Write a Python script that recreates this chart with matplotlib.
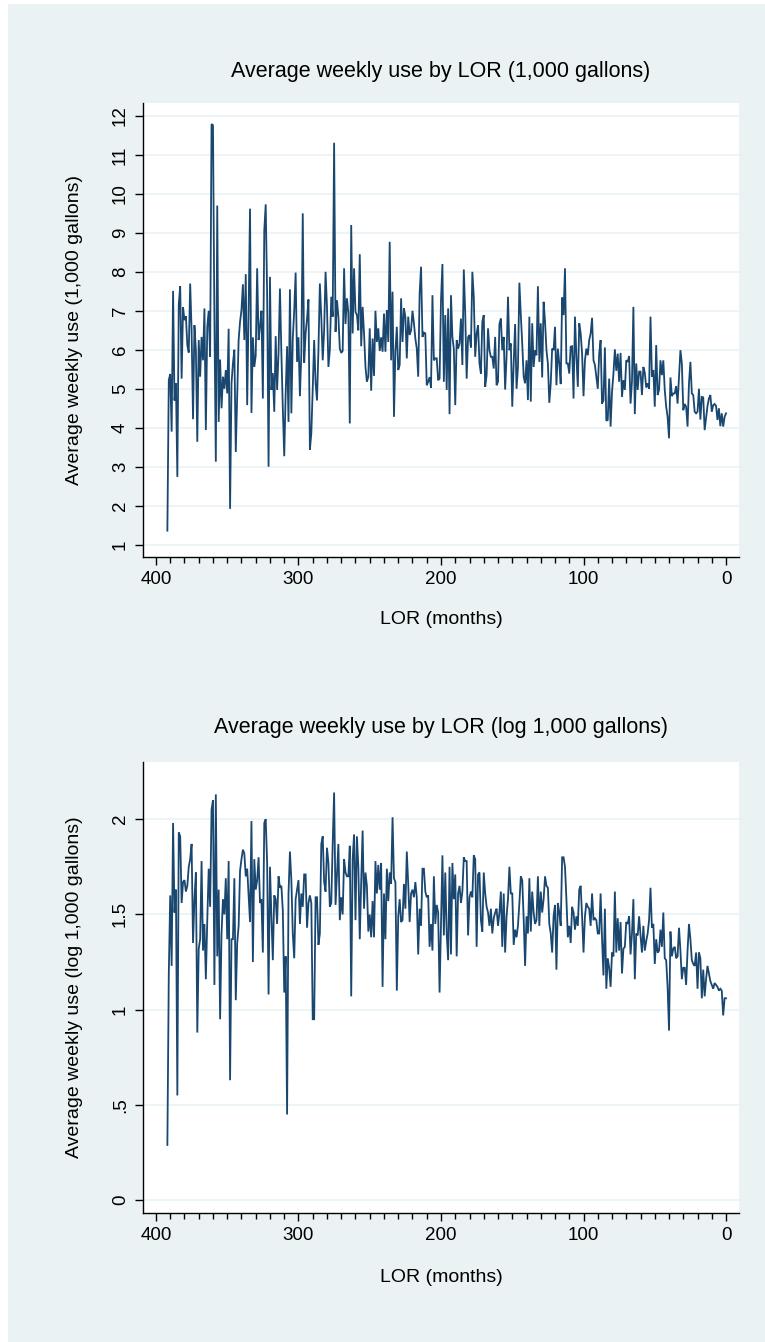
import numpy as np
import matplotlib
matplotlib.use("Agg")
import matplotlib.pyplot as plt
from matplotlib.patches import Rectangle
from matplotlib.ticker import MultipleLocator, FixedLocator

plt.rcParams['font.family'] = ['Liberation Sans', 'DejaVu Sans']

# LOR in months, from 392 down to 0
lor = np.arange(392, -1, -1)

# Average weekly use (1,000 gallons), LOR 392 -> 0
use_a = [1.36, 5.22, 5.38, 3.9, 7.51, 4.7, 5.14, 2.74, 7.17, 7.63,
         5.26, 7.09, 6.76, 6.86, 6.12, 5.93, 7.7, 6.5, 4.22, 6.63,
         5.99, 3.64, 6.25, 5.31, 6.33, 5.73, 7.06, 3.94, 6.59, 7.0,
         5.82, 11.79, 11.76, 6.8, 3.13, 9.7, 4.15, 5.75, 4.5, 5.31,
         5.0, 5.48, 4.88, 6.54, 1.92, 5.14, 5.65, 6.0, 3.38, 4.8,
         6.25, 6.72, 7.02, 7.68, 6.25, 7.94, 4.58, 7.0, 9.62, 4.38,
         6.32, 5.56, 5.86, 8.09, 6.25, 6.6, 7.0, 4.75, 9.07, 9.73,
         7.44, 3.0, 7.87, 4.97, 5.4, 4.41, 6.35, 4.97, 5.91, 7.57,
         5.91, 4.5, 3.27, 4.88, 6.09, 4.15, 7.55]
use_b = [4.37, 6.29, 7.0, 7.98, 5.69, 6.32, 4.81, 5.9, 9.5, 5.67,
         6.42, 6.8, 7.29, 3.44, 3.85, 5.0, 6.25, 5.14, 4.7, 6.0,
         7.7, 6.85, 5.73, 6.5, 8.0, 7.1, 5.56, 6.0, 7.36, 6.85,
         11.31, 6.46, 7.27, 6.85, 6.03, 5.92, 5.97, 8.09, 6.66, 7.32,
         6.95, 4.11, 9.2, 6.42, 8.09, 6.97, 6.89, 6.5, 8.45, 6.09,
         7.1, 6.42, 5.56, 5.18, 5.31, 6.55, 4.95, 6.29, 5.33, 7.0,
         6.2, 6.55, 5.97, 6.32, 5.95, 6.93, 5.95, 7.02, 6.2, 8.77,
         5.73, 7.49, 4.28, 5.95, 6.59, 5.48, 5.61, 7.32, 6.2, 7.06,
         6.85, 5.78, 6.85, 6.38, 6.5, 7.0, 6.68, 6.29, 6.03, 5.31,
         7.44, 8.13, 6.33, 6.44, 6.42, 5.09, 5.18, 5.3, 5.03, 7.4,
         5.73]
use_c = [5.78, 5.78, 5.22, 5.26, 7.27, 8.2, 5.18, 6.89, 4.97, 7.06,
         4.35, 7.4, 6.33, 6.03, 4.58, 6.25, 6.03, 6.16, 6.8, 5.61,
         8.06, 6.93, 5.26, 6.32, 6.38, 6.06, 8.0, 7.36, 5.82, 6.42,
         6.63, 5.65, 5.39, 6.72, 6.89, 5.05, 5.35, 6.55, 5.99, 5.82,
         5.82, 5.52, 6.33, 5.09, 5.18, 6.66, 6.8, 5.99, 6.33, 4.98,
         5.82, 7.36, 5.99, 6.16, 4.54, 5.65, 6.66, 5.0, 5.56, 7.72,
         6.89, 6.16, 5.31, 5.14, 5.73, 4.71, 6.85, 4.67, 6.68, 5.56,
         5.99, 5.86, 7.63, 5.69, 6.68, 5.29, 7.23, 6.72, 5.99, 5.65,
         4.64, 5.14, 6.03, 5.99, 6.59, 5.09, 6.03, 5.65, 5.12, 7.34,
         6.89, 8.09, 5.65, 5.65, 5.39, 6.08, 6.09, 4.75, 6.85, 5.82,
         5.05, 6.68]
use_d = [6.42, 5.9, 4.81, 5.73, 6.03, 5.86, 6.25, 6.42, 6.82, 5.73,
         5.61, 5.31, 5.0, 5.9, 6.25, 4.62, 4.7, 6.06, 4.18, 4.2,
         5.26, 4.03, 4.92, 5.39, 6.01, 5.46, 5.9, 5.18, 5.92, 4.79,
         5.22, 4.97, 5.73, 5.69, 5.84, 4.62, 5.18, 7.1, 4.35, 5.65,
         4.97, 5.44, 5.44, 4.84, 5.56, 5.41, 5.03, 5.14, 5.0, 6.85,
         5.31, 5.48, 4.54, 6.12, 4.84, 4.97, 5.73, 5.35, 5.73, 4.97,
         4.54, 4.28, 3.73, 5.29, 4.81, 4.88, 4.88, 5.07, 4.62, 5.31,
         5.99, 5.65, 4.45, 4.61, 4.54, 4.03, 5.14, 5.69, 4.88, 4.84,
         4.41, 4.37, 4.41, 5.0, 4.21, 4.79, 4.78, 3.94, 4.24, 4.56,
         4.75, 4.84, 4.41, 4.58, 4.61, 4.56, 4.2, 4.5, 4.04, 4.37,
         4.03, 4.28, 4.37]

# Average weekly use (log 1,000 gallons), LOR 392 -> 0
log_a = [0.29, 1.19, 1.6, 1.23, 1.98, 1.51, 1.63, 0.55, 1.93, 1.91,
         1.56, 1.67, 1.68, 1.62, 1.65, 1.75, 1.79, 1.87, 1.35, 1.58,
         1.72, 0.88, 1.32, 1.37, 1.78, 1.31, 1.45, 1.16, 1.47, 1.74,
         1.54, 2.05, 2.1, 1.13, 2.13, 1.28, 1.63, 0.95, 1.4, 1.58,
         1.5, 1.69, 1.37, 1.78, 0.63, 1.37, 1.37, 1.69, 1.05, 1.35,
         1.44, 1.73, 1.79, 1.84, 1.82, 1.7, 1.74, 1.6, 1.46, 1.99,
         1.25, 1.79, 1.63, 1.68, 1.8, 1.56, 1.58, 1.3, 1.98, 2.0,
         1.77, 1.08, 1.75, 1.49, 1.26, 1.6, 1.58, 1.45, 1.7, 1.64,
         1.65, 1.52, 1.09, 1.28, 0.45, 1.61, 1.83]
log_b = [1.68, 1.4, 1.27, 1.58, 1.63, 1.68, 1.45, 1.61, 1.54, 1.71,
         1.71, 1.43, 1.56, 1.6, 1.56, 0.95, 0.95, 1.59, 1.59, 1.34,
         1.4, 1.87, 1.91, 1.67, 1.62, 1.85, 1.77, 1.54, 1.56, 1.87,
         2.14, 1.55, 1.71, 1.87, 1.47, 1.59, 1.5, 1.79, 1.72, 1.7,
         1.7, 1.86, 1.07, 1.79, 1.92, 1.47, 1.91, 1.75, 1.37, 1.67,
         1.94, 1.53, 1.72, 1.65, 1.41, 1.5, 1.38, 1.57, 1.38, 1.78,
         1.61, 1.76, 1.63, 1.77, 1.12, 1.61, 1.37, 1.74, 1.57, 1.72,
         1.66, 2.01, 1.69, 1.67, 1.1, 1.49, 1.58, 1.46, 1.47, 1.66,
         1.53, 1.83, 1.66, 1.46, 1.61, 1.63, 1.59, 1.67, 1.59, 1.29,
         1.53, 1.44, 1.74, 1.74, 1.62, 1.59, 1.6, 1.33, 1.45, 1.31,
         1.7]
log_c = [1.45, 1.55, 1.51, 1.09, 1.45, 1.81, 1.39, 1.72, 1.4, 1.26,
         1.75, 1.29, 1.77, 1.58, 1.71, 1.28, 1.61, 1.65, 1.56, 1.62,
         1.8, 1.78, 1.78, 1.39, 1.59, 1.62, 1.59, 1.81, 1.79, 1.33,
         1.71, 1.72, 1.47, 1.41, 1.72, 1.61, 1.54, 1.51, 1.44, 1.53,
         1.4, 1.48, 1.51, 1.53, 1.44, 1.51, 1.62, 1.33, 1.61, 1.3,
         1.49, 1.58, 1.75, 1.61, 1.61, 1.34, 1.42, 1.38, 1.44, 1.56,
         1.7, 1.68, 1.48, 1.23, 1.49, 1.4, 1.69, 1.41, 1.62, 1.51,
         1.45, 1.47, 1.7, 1.44, 1.62, 1.51, 1.58, 1.7, 1.65, 1.64,
         1.45, 1.4, 1.3, 1.49, 1.55, 1.21, 1.56, 1.51, 1.44, 1.8,
         1.8, 1.75, 1.58, 1.38, 1.44, 1.35, 1.54, 1.51, 1.42, 1.49,
         1.44, 1.63]
log_d = [1.65, 1.49, 1.3, 1.49, 1.56, 1.54, 1.53, 1.44, 1.61, 1.47,
         1.48, 1.47, 1.4, 1.4, 1.61, 1.37, 1.18, 1.53, 1.11, 1.27,
         1.22, 1.12, 1.3, 1.28, 1.62, 1.3, 1.48, 1.31, 1.46, 1.19,
         1.32, 1.33, 1.46, 1.45, 1.49, 1.29, 1.4, 1.58, 1.16, 1.4,
         1.39, 1.49, 1.39, 1.3, 1.44, 1.31, 1.36, 1.4, 1.47, 1.64,
         1.43, 1.45, 1.24, 1.37, 1.3, 1.31, 1.42, 1.33, 1.51, 1.27,
         1.26, 1.12, 0.89, 1.41, 1.28, 1.32, 1.33, 1.27, 1.28, 1.43,
         1.31, 1.16, 1.22, 1.22, 1.13, 1.31, 1.45, 1.37, 1.26, 1.24,
         1.23, 1.3, 1.11, 1.3, 1.27, 1.06, 1.21, 1.07, 1.16, 1.23,
         1.19, 1.15, 1.13, 1.11, 1.14, 1.13, 1.12, 1.1, 1.11, 1.1,
         0.97, 1.06, 1.06]

use = np.array(use_a + use_b + use_c + use_d)
logu = np.array(log_a + log_b + log_c + log_d)
n = min(len(lor), len(use), len(logu))

titles = ["Average weekly use by LOR (1,000 gallons)",
          "Average weekly use by LOR (log 1,000 gallons)"]
ylabels = ["Average weekly use (1,000 gallons)",
           "Average weekly use (log 1,000 gallons)"]
xlabel = "LOR (months)"
x_major = [400, 300, 200, 100, 0]
yticks_top = list(range(1, 13))
yticks_bot = [0, 0.5, 1, 1.5, 2]
ylab_bot = ["0", ".5", "1", "1.5", "2"]

W, H = 765, 1342
BG = "#EAF2F3"
LINE = "#1A476F"

fig = plt.figure(figsize=(W / 100, H / 100), dpi=100, facecolor="white")
fig.patches.append(Rectangle((8 / W, 0), (W - 8) / W, (H - 4) / H,
                             transform=fig.transFigure, facecolor=BG,
                             edgecolor="none", zorder=-10))


def rect(l, t, r, b):
    return [l / W, 1 - b / H, (r - l) / W, (b - t) / H]


def style(ax, yt, ylabs, ylim):
    ax.set_facecolor("white")
    ax.set_xlim(409.1, -9.1)
    ax.set_ylim(*ylim)
    for s in ["top", "right"]:
        ax.spines[s].set_visible(False)
    for s in ["left", "bottom"]:
        ax.spines[s].set_linewidth(1.0)
        ax.spines[s].set_color("black")
    ax.xaxis.set_major_locator(FixedLocator(x_major))
    ax.xaxis.set_minor_locator(MultipleLocator(10))
    ax.set_xticklabels([str(v) for v in x_major])
    ax.set_yticks(yt)
    ax.set_yticklabels(ylabs, rotation=90, va="center")
    ax.tick_params(axis="both", which="major", length=6, width=1,
                   labelsize=13.5, color="black", pad=4)
    ax.tick_params(axis="x", which="minor", length=4, width=1, color="black")
    ax.tick_params(axis="y", which="minor", left=False)
    ax.yaxis.grid(True, color=BG, linewidth=1.2)
    ax.set_axisbelow(True)


ax1 = fig.add_axes(rect(143, 103, 739, 557))
ax1.plot(lor[:n], use[:n], color=LINE, linewidth=1.3, solid_joinstyle="miter")
style(ax1, yticks_top, [str(v) for v in yticks_top], (0.685, 12.33))

ax2 = fig.add_axes(rect(143, 762, 739, 1213))
ax2.plot(lor[:n], logu[:n], color=LINE, linewidth=1.3, solid_joinstyle="miter")
style(ax2, yticks_bot, ylab_bot, (-0.067, 2.30))

for i, (tcy, xly, yly) in enumerate([(72, 620, 330), (728, 1277, 987)]):
    fig.text(441 / W, 1 - tcy / H, titles[i], ha="center", va="center",
             fontsize=15.5)
    fig.text(441 / W, 1 - xly / H, xlabel, ha="center", va="center",
             fontsize=14)
    fig.text(75 / W, 1 - yly / H, ylabels[i], ha="center", va="center",
             rotation=90, fontsize=14)

fig.savefig("out.png", dpi=100, facecolor="white")
